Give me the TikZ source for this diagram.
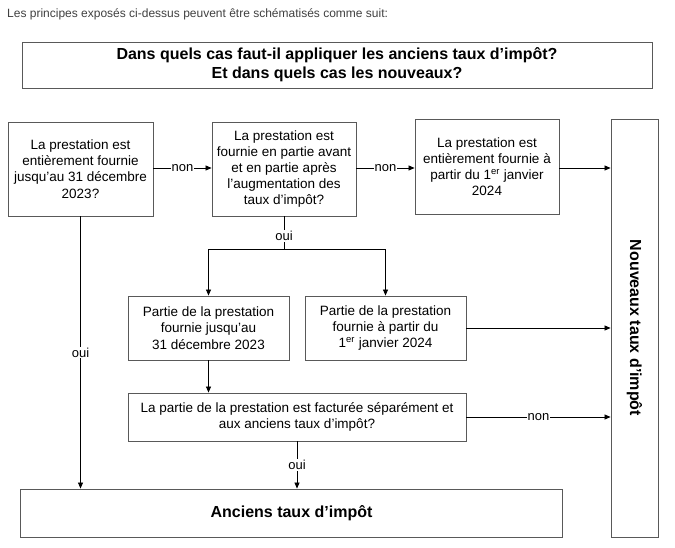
\documentclass[tikz,border=0pt]{standalone}
\usepackage{fontspec}
\setmainfont{Liberation Sans}
\usetikzlibrary{arrows.meta, positioning, calc}
\tikzset{
    qbox/.style={rectangle, draw=black!65, line width=0.9pt, fill=white, inner sep=0pt, align=center, font=\fontsize{13.5}{16.2}\selectfont},
    titlebox/.style={qbox, font=\fontsize{16}{19}\selectfont\bfseries},
    resbox/.style={qbox, font=\fontsize{16}{19}\selectfont\bfseries},
    flow/.style={-{Triangle[length=6pt,width=5pt]}, line width=0.7pt, draw=black},
    flowline/.style={line width=0.7pt, draw=black},
    lbl/.style={fill=white, inner sep=1pt, font=\fontsize{13}{15}\selectfont}
}
\begin{document}
\begin{tikzpicture}[x=1pt, y=-1pt]
    \useasboundingbox (0,0) rectangle (675,548);
    \node[anchor=west, text=black!75, font=\fontsize{12}{14}\selectfont, inner sep=0pt] (intro) at (7,14) {Les principes exposés ci-dessus peuvent être schématisés comme suit:};
    \node[titlebox, minimum width=630pt, minimum height=46pt] (T) at (337,65) {Dans quels cas faut-il appliquer les anciens taux d’impôt?\\Et dans quels cas les nouveaux?};

    % Questions
    \node[qbox, minimum width=145pt, minimum height=94pt] (A) at (80.5,169) {La prestation est\\entièrement fournie\\jusqu’au 31 décembre\\2023?};
    \node[qbox, minimum width=144pt, minimum height=94pt] (B) at (284,169) {La prestation est\\fournie en partie avant\\et en partie après\\l’augmentation des\\taux d’impôt?};
    \node[qbox, minimum width=144pt, minimum height=95pt] (C) at (487,166.5) {La prestation est\\entièrement fournie à\\partir du 1\textsuperscript{er} janvier\\2024};
    \node[qbox, minimum width=161pt, minimum height=64pt] (D) at (208.5,328) {Partie de la prestation\\fournie jusqu’au\\31 décembre 2023};
    \node[qbox, minimum width=161pt, minimum height=64pt] (E) at (385.5,328) {Partie de la prestation\\fournie à partir du\\1\textsuperscript{er} janvier 2024};
    \node[qbox, minimum width=338pt, minimum height=48pt] (F) at (297,417) {La partie de la prestation est facturée séparément et\\aux anciens taux d’impôt?};

    % Results
    \node[resbox, minimum width=542pt, minimum height=48pt] (O) at (291.5,513) {Anciens taux d’impôt};
    \node[resbox, minimum width=47pt, minimum height=418pt] (N) at (634.5,328) {};
    \node[rotate=-90, font=\fontsize{16}{19}\selectfont\bfseries] (Nlbl) at (N.center) {Nouveaux taux d’impôt};

    \coordinate (split) at (284,249);

    % Connectors
    \draw[flow] (A.east |- 0,168) -- node[lbl] {non} (B.west |- 0,168);
    \draw[flow] (B.east |- 0,168) -- node[lbl] {non} (C.west |- 0,168);
    \draw[flow] (C.east |- 0,168) -- (N.west |- 0,168);
    \draw[flowline] (B) -- node[lbl, pos=0.6] {oui} (split);
    \draw[flow] (split) -| (D);
    \draw[flow] (split) -| (E);
    \draw[flow] (A) -- node[lbl] {oui} (A |- O.north);
    \draw[flow] (E) -- (E -| N.west);
    \draw[flow] (D) -- (D |- F.north);
    \draw[flow] (F) -- node[lbl] {non} (F -| N.west);
    \draw[flow] (F) -- node[lbl] {oui} (F |- O.north);
\end{tikzpicture}
\end{document}
